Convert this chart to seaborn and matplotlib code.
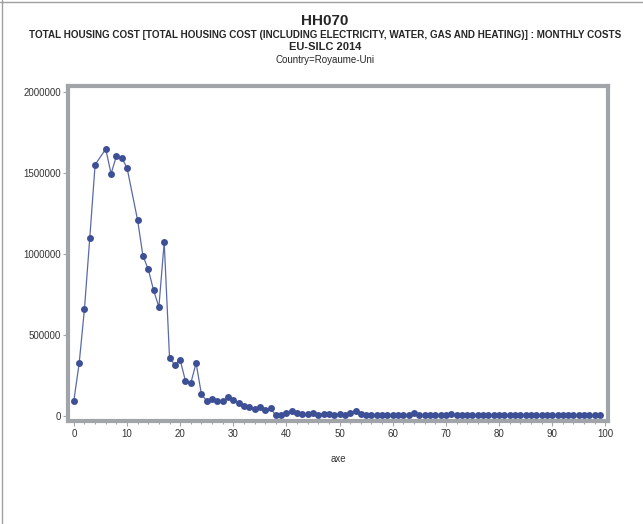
import matplotlib
matplotlib.use("Agg")
import matplotlib.pyplot as plt
import seaborn as sns
import pandas as pd
from matplotlib.ticker import MultipleLocator
from matplotlib.lines import Line2D

# ---- data ----
axe = [0, 1, 2, 3, 4, 6, 7, 8, 9, 10,
       12, 13, 14, 15, 16, 17, 18, 19, 20, 21,
       22, 23, 24, 25, 26, 27, 28, 29, 30, 31,
       32, 33, 34, 35, 36, 37, 38, 39, 40, 41,
       42, 43, 44, 45, 46, 47, 48, 49, 50, 51,
       52, 53, 54, 55, 56, 57, 58, 59, 60, 61,
       62, 63, 64, 65, 66, 67, 68, 69, 70, 71,
       72, 73, 74, 75, 76, 77, 78, 79, 80, 81,
       82, 83, 84, 85, 86, 87, 88, 89, 90, 91,
       92, 93, 94, 95, 96, 97, 98, 99]
values = [93000, 323000, 660000, 1099000, 1549000, 1646000, 1494000, 1601000, 1591000, 1531000,
          1206000, 986000, 904000, 774000, 671000, 1070000, 358000, 313000, 344000, 214000,
          200000, 325000, 132000, 91000, 103000, 88000, 88000, 113000, 95000, 78000,
          58000, 52000, 41000, 52000, 33000, 45000, 2000, 5000, 17000, 27000,
          16000, 8000, 8000, 14000, 4000, 8000, 8000, 1000, 10000, 1000,
          16000, 30000, 10000, 1000, 1000, 6000, 6000, 1000, 1000, 1000,
          1000, 1000, 14000, 6000, 1000, 1000, 1000, 1000, 1000, 8000,
          1000, 1000, 1000, 1000, 1000, 1000, 1000, 1000, 1000, 1000,
          1000, 1000, 1000, 1000, 1000, 1000, 1000, 1000, 1000, 1000,
          1000, 1000, 1000, 1000, 1000, 1000, 1000, 1000]
y_ticks = [0, 500000, 1000000, 1500000, 2000000]
x_ticks = [0, 10, 20, 30, 40, 50, 60, 70, 80, 90, 100]

title_main = "HH070"
title_sub = "TOTAL HOUSING COST [TOTAL HOUSING COST (INCLUDING ELECTRICITY, WATER, GAS AND HEATING)] : MONTHLY COSTS"
title_survey = "EU-SILC 2014"
title_country = "Country=Royaume-Uni"

df = pd.DataFrame({"axe": axe, "value": values})

sns.set_theme(style="white")
plt.rcParams["font.family"] = ["Liberation Sans", "DejaVu Sans"]

W, H = 643, 524
fig = plt.figure(figsize=(W / 100, H / 100), dpi=100)
ax = fig.add_axes([68 / W, (H - 421) / H, (608 - 68) / W, (421 - 86) / H])

line_col = "#3d4f95"
sns.lineplot(data=df, x="axe", y="value", ax=ax, color=line_col, linewidth=0.9,
             marker="o", markersize=5, markeredgewidth=0, markerfacecolor=line_col,
             alpha=1.0)
ax.lines[0].set_color("#5a6aa8")
ax.lines[0].set_markerfacecolor(line_col)

ax.set_xlim(-1.1, 100.5)
ax.set_ylim(-33000, 2035000)
ax.set_xticks(x_ticks)
ax.set_yticks(y_ticks)
ax.set_yticklabels([str(v) for v in y_ticks])
ax.xaxis.set_minor_locator(MultipleLocator(2))

frame_col = "#a1a5a9"
for s in ax.spines.values():
    s.set_visible(True)
    s.set_color(frame_col)
    s.set_linewidth(3.0)

ax.tick_params(axis="both", which="major", length=3.5, width=0.8, color=frame_col,
               labelsize=7, labelcolor="#333333", pad=2, direction="out")
ax.tick_params(axis="y", which="major", pad=1.5)
ax.tick_params(axis="x", which="minor", length=2.5, width=0.8, color=frame_col,
               direction="out", bottom=True)
ax.tick_params(axis="x", which="major", bottom=True)
ax.tick_params(axis="y", which="major", left=True)
ax.set_xlabel("axe", fontsize=7, color="#333333", labelpad=11)
ax.set_ylabel("")

cx = 325 / W
fig.text(cx, 1 - 21 / H, title_main, ha="center", va="center", fontsize=11, fontweight="bold")
fig.text(cx, 1 - 35 / H, title_sub, ha="center", va="center", fontsize=7.15, fontweight="bold")
fig.text(cx, 1 - 47 / H, title_survey, ha="center", va="center", fontsize=8, fontweight="bold")
fig.text(cx, 1 - 60 / H, title_country, ha="center", va="center", fontsize=7)

# thin page border (top and left)
fig.add_artist(Line2D([0, 1], [1 - 1.5 / H, 1 - 1.5 / H], transform=fig.transFigure,
                      color="#a0a0a0", linewidth=1))
fig.add_artist(Line2D([1.5 / W, 1.5 / W], [0, 1], transform=fig.transFigure,
                      color="#a0a0a0", linewidth=1))

fig.savefig("out.png", dpi=100)
